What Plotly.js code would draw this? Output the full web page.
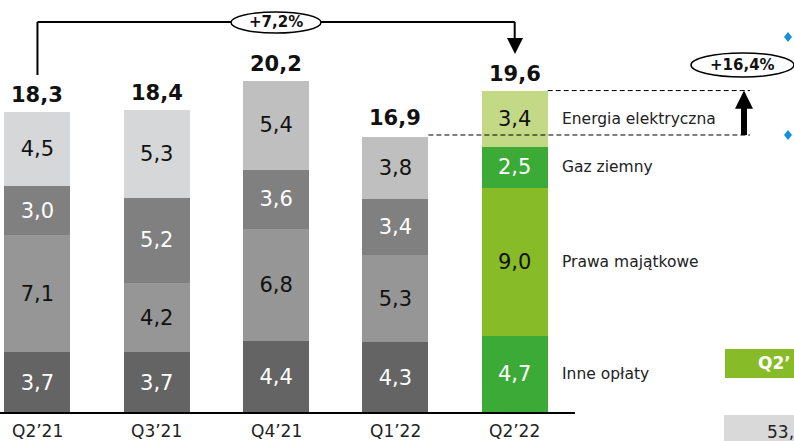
<!DOCTYPE html>
<html>
<head>
<meta charset="utf-8">
<script src="https://cdn.plot.ly/plotly-3.0.1.min.js"></script>
<style>html,body{margin:0;padding:0;background:#fff;}#chart{width:794px;height:441px;}</style>
</head>
<body>
<div id="chart"></div>
<script>
const categories = ["Q2\u201921", "Q3\u201921", "Q4\u201921", "Q1\u201922", "Q2\u201922"];
const inneOplaty = [3.7, 3.7, 4.4, 4.3, 4.7];
const prawaMajatkowe = [7.1, 4.2, 6.8, 5.3, 9.0];
const gazZiemny = [3.0, 5.2, 3.6, 3.4, 2.5];
const energiaElektryczna = [4.5, 5.3, 5.4, 3.8, 3.4];
const totals = [18.3, 18.4, 20.2, 16.9, 19.6];
const seriesNames = ["Inne opłaty", "Prawa majątkowe", "Gaz ziemny", "Energia elektryczna"];
const changeLabels = ["+7,2%", "+16,4%"];
const sidePanelLabels = ["Q2\u2019", "53,"];

const FONT = "DejaVu Sans, Verdana, sans-serif";
const W = 794, H = 441;
const px = v => v / W;            // pixel x -> paper
const py = v => 1 - v / H;        // pixel y -> paper
const fmt = v => v.toFixed(1).replace('.', ',');

const seriesData = [inneOplaty, prawaMajatkowe, gazZiemny, energiaElektryczna];
const colors = [
  ['#646464', '#646464', '#646464', '#646464', '#3caa36'],
  ['#969696', '#969696', '#969696', '#969696', '#87bc28'],
  ['#808080', '#808080', '#808080', '#808080', '#3caa36'],
  ['#d6d7d9', '#d6d7d9', '#bfbfbf', '#bfbfbf', '#c3d985']
];
const textColors = ['#ffffff', '#111111', '#ffffff', '#111111'];

const traces = seriesData.map((vals, k) => ({
  type: 'bar',
  name: seriesNames[k],
  x: categories,
  y: vals,
  marker: { color: colors[k], line: { width: 0 } },
  text: vals.map(fmt),
  textposition: 'inside',
  insidetextanchor: 'middle',
  constraintext: 'none',
  textangle: 0,
  textfont: { family: FONT, size: 21, color: textColors[k] },
  hoverinfo: 'skip'
}));

const annotations = [];
// totals and category labels
categories.forEach((c, i) => {
  annotations.push({
    x: c, y: totals[i], xref: 'x', yref: 'y', text: '<b>' + fmt(totals[i]) + '</b>',
    showarrow: false, xanchor: 'center', yanchor: 'bottom', yshift: 3,
    font: { family: FONT, size: 21, color: '#111' }
  });
  annotations.push({
    x: c, y: 0, xref: 'x', yref: 'y', text: c, showarrow: false,
    xanchor: 'center', yanchor: 'top', yshift: -6, font: { family: FONT, size: 17, color: '#222' }
  });
});
// series labels next to last bar
let cum = 0;
seriesData.forEach((vals, k) => {
  const v = vals[4];
  annotations.push({
    x: categories[4], y: cum + v / 2, xref: 'x', yref: 'y', text: seriesNames[k],
    showarrow: false, xanchor: 'left', xshift: 45, yanchor: 'middle',
    font: { family: FONT, size: 15.5, color: '#222' }
  });
  cum += v;
});
// change labels
annotations.push({ x: px(276), y: py(22), xref: 'paper', yref: 'paper', text: '<b>' + changeLabels[0] + '</b>',
  showarrow: false, xanchor: 'center', yanchor: 'middle', font: { family: FONT, size: 15, color: '#111' } });
annotations.push({ x: px(742), y: py(65), xref: 'paper', yref: 'paper', text: '<b>' + changeLabels[1] + '</b>',
  showarrow: false, xanchor: 'center', yanchor: 'middle', font: { family: FONT, size: 15, color: '#111' } });
// side panel fragments
annotations.push({ x: px(756), y: py(363), xref: 'paper', yref: 'paper', text: '<b>' + sidePanelLabels[0] + '</b>',
  showarrow: false, xanchor: 'left', yanchor: 'middle', font: { family: FONT, size: 17, color: '#fff' } });
annotations.push({ x: px(765), y: py(432), xref: 'paper', yref: 'paper', text: sidePanelLabels[1],
  showarrow: false, xanchor: 'left', yanchor: 'middle', font: { family: FONT, size: 17, color: '#222' } });

const barHalf = 0.2765;
const dashEnd = 5.972;
const arrowX = px(744);
const shapes = [
  // baseline
  { type: 'line', xref: 'x', yref: 'y', x0: -0.5, x1: 4.505, y0: 0, y1: 0, line: { color: '#000', width: 2 } },
  // bracket
  { type: 'line', xref: 'x', yref: 'paper', x0: 0, x1: 0, y0: py(75), y1: py(22), line: { color: '#000', width: 2 } },
  { type: 'line', xref: 'x', yref: 'paper', x0: 0, x1: 4, y0: py(22), y1: py(22), line: { color: '#000', width: 2 } },
  { type: 'line', xref: 'x', yref: 'paper', x0: 4, x1: 4, y0: py(22), y1: py(40), line: { color: '#000', width: 2 } },
  { type: 'path', xref: 'paper', yref: 'paper', path: `M ${px(507)},${py(38)} L ${px(523)},${py(38)} L ${px(515)},${py(54)} Z`,
    fillcolor: '#000', line: { width: 0 } },
  { type: 'circle', xref: 'paper', yref: 'paper', x0: px(231), x1: px(321), y0: py(33), y1: py(12),
    fillcolor: '#fff', line: { color: '#000', width: 1.5 } },
  // dashed reference lines
  { type: 'line', xref: 'x', yref: 'y', x0: 4 + barHalf, x1: dashEnd, y0: totals[4], y1: totals[4], line: { color: '#000', width: 1, dash: '5px,3px' } },
  { type: 'line', xref: 'x', yref: 'y', x0: 3 + barHalf, x1: dashEnd, y0: totals[3], y1: totals[3], line: { color: '#000', width: 1, dash: '5px,3px' } },
  // growth arrow
  { type: 'line', xref: 'paper', yref: 'y', x0: arrowX, x1: arrowX, y0: totals[3], y1: totals[4] - 1.0, line: { color: '#000', width: 6 } },
  { type: 'path', xref: 'paper', yref: 'y', path: `M ${px(735)},${totals[4] - 1.1} L ${px(753)},${totals[4] - 1.1} L ${arrowX},${totals[4]} Z`,
    fillcolor: '#000', line: { width: 0 } },
  { type: 'circle', xref: 'paper', yref: 'paper', x0: px(691), x1: px(794), y0: py(77), y1: py(53),
    fillcolor: '#fff', line: { color: '#000', width: 1.5 } },
  // blue diamonds
  { type: 'path', xref: 'paper', yref: 'paper', path: `M ${px(788)},${py(32)} L ${px(792)},${py(37)} L ${px(788)},${py(42)} L ${px(784)},${py(37)} Z`,
    fillcolor: '#1191e0', line: { width: 0 } },
  { type: 'path', xref: 'paper', yref: 'paper', path: `M ${px(788)},${py(130)} L ${px(792)},${py(135)} L ${px(788)},${py(140)} L ${px(784)},${py(135)} Z`,
    fillcolor: '#1191e0', line: { width: 0 } },
  // side panel boxes
  { type: 'rect', xref: 'paper', yref: 'paper', x0: px(725), x1: px(800), y0: py(378), y1: py(349), fillcolor: '#87bc28', line: { width: 0 } },
  { type: 'rect', xref: 'paper', yref: 'paper', x0: px(724), x1: px(800), y0: py(445), y1: py(415), fillcolor: '#d9d9d9', line: { width: 0 } }
];

const layout = {
  width: W, height: H,
  margin: { l: 0, r: 0, t: 0, b: 0, pad: 0 },
  paper_bgcolor: '#fff', plot_bgcolor: '#fff',
  barmode: 'stack',
  bargap: 0.447,
  showlegend: false,
  xaxis: { type: 'category', range: [-0.314, 6.341], showticklabels: false, showgrid: false, zeroline: false, showline: false, fixedrange: true },
  yaxis: { range: [-28 / 16.45, 413 / 16.45], visible: false, showgrid: false, zeroline: false, fixedrange: true },
  annotations: annotations,
  shapes: shapes,
  font: { family: FONT }
};

Plotly.newPlot('chart', traces, layout, { displayModeBar: false, staticPlot: true });
</script>
</body>
</html>
